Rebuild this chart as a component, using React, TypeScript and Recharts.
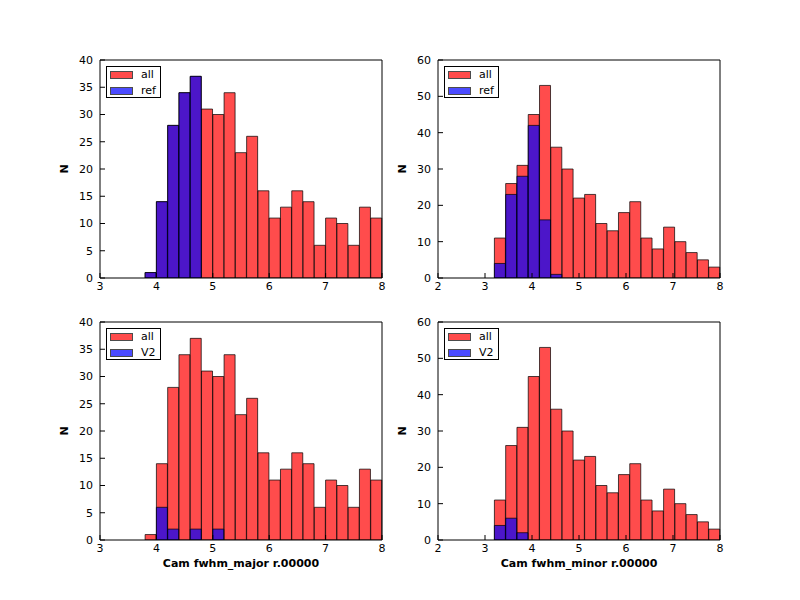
import React from 'react';
import { BarChart, Bar, XAxis, YAxis, Legend } from 'recharts';

// histogram bins (left edges) and counts
const majorBins = [3.0, 3.2, 3.4, 3.6, 3.8, 4.0, 4.2, 4.4, 4.6, 4.8, 5.0, 5.2, 5.4, 5.6, 5.8, 6.0, 6.2, 6.4, 6.6, 6.8, 7.0, 7.2, 7.4, 7.6, 7.8];
const majorAll = [0, 0, 0, 0, 1, 14, 28, 34, 37, 31, 30, 34, 23, 26, 16, 11, 13, 16, 14, 6, 11, 10, 6, 13, 11];
const majorRef = [0, 0, 0, 0, 1, 14, 28, 34, 37, 0, 0, 0, 0, 0, 0, 0, 0, 0, 0, 0, 0, 0, 0, 0, 0];
const majorV2 = [0, 0, 0, 0, 0, 6, 2, 0, 2, 0, 2, 0, 0, 0, 0, 0, 0, 0, 0, 0, 0, 0, 0, 0, 0];

const minorBins = [2.0, 2.24, 2.48, 2.72, 2.96, 3.2, 3.44, 3.68, 3.92, 4.16, 4.4, 4.64, 4.88, 5.12, 5.36, 5.6, 5.84, 6.08, 6.32, 6.56, 6.8, 7.04, 7.28, 7.52, 7.76];
const minorAll = [0, 0, 0, 0, 0, 11, 26, 31, 45, 53, 36, 30, 22, 23, 15, 13, 18, 21, 11, 8, 14, 10, 7, 5, 3];
const minorRef = [0, 0, 0, 0, 0, 4, 23, 28, 42, 16, 1, 0, 0, 0, 0, 0, 0, 0, 0, 0, 0, 0, 0, 0, 0];
const minorV2 = [0, 0, 0, 0, 0, 4, 6, 2, 0, 0, 0, 0, 0, 0, 0, 0, 0, 0, 0, 0, 0, 0, 0, 0, 0];

const majorTicks = [3, 4, 5, 6, 7, 8];
const minorTicks = [2, 3, 4, 5, 6, 7, 8];
const majorYTicks = [0, 5, 10, 15, 20, 25, 30, 35, 40];
const minorYTicks = [0, 10, 20, 30, 40, 50, 60];

const PLOT_W = 282;
const PLOT_H = 218;
const Y_AXIS_W = 72;
const TOP_M = 20;
const X_AXIS_H = 40;

const tickStyle = { fill: '#000', fontSize: 11 };
const black = { stroke: '#000' };

const LegendBox = ({ payload, order }: any) => {
  const items = [...(payload || [])].sort(
    (a: any, b: any) => order.indexOf(a.value) - order.indexOf(b.value)
  );
  return (
    <div
      style={{
        width: 55,
        height: 32,
        boxSizing: 'border-box',
        border: '1px solid #000',
        background: '#fff',
        padding: '1px 0 0 3px',
        fontSize: 11,
        color: '#000',
      }}
    >
      {items.map((p: any) => (
        <div key={p.value} style={{ display: 'flex', alignItems: 'center', height: 14, marginBottom: 2 }}>
          <span
            style={{
              display: 'inline-block',
              width: 23,
              height: 8,
              boxSizing: 'border-box',
              background: p.color,
              border: '1px solid #000',
              opacity: 0.7,
            }}
          />
          <span style={{ marginLeft: 8, lineHeight: '14px' }}>{p.value}</span>
        </div>
      ))}
    </div>
  );
};

interface PanelProps {
  left: number;
  top: number;
  bins: number[];
  all: number[];
  sub: number[];
  subName: string;
  xDomain: [number, number];
  xTicks: number[];
  yMax: number;
  yTicks: number[];
  xLabel?: string;
}

const Panel: React.FC<PanelProps> = ({ left, top, bins, all, sub, subName, xDomain, xTicks, yMax, yTicks, xLabel }) => {
  const data = bins.map((b, i) => ({ bin: b, all: all[i], sub: sub[i] }));
  return (
    <div style={{ position: 'absolute', left: left - Y_AXIS_W, top: top - TOP_M }}>
      <BarChart
        width={Y_AXIS_W + PLOT_W + 10}
        height={TOP_M + PLOT_H + X_AXIS_H + 10}
        data={data}
        margin={{ top: TOP_M - 1, right: 9, bottom: 10, left: 0 }}
        barCategoryGap={0}
        barGap={0}
      >
        {/* two band axes so that the two histograms overlap instead of sitting side by side */}
        <XAxis xAxisId="binsAll" dataKey="bin" type="category" hide height={0} />
        <XAxis xAxisId="binsSub" dataKey="bin" type="category" hide height={0} />
        <XAxis
          xAxisId="num"
          dataKey="bin"
          type="number"
          domain={xDomain}
          ticks={xTicks}
          allowDataOverflow
          interval={0}
          height={X_AXIS_H}
          tickSize={-5}
          tickMargin={9}
          tick={tickStyle}
          axisLine={black}
          tickLine={black}
          label={
            xLabel
              ? { value: xLabel, position: 'insideBottom', offset: 13, fontWeight: 'bold', fontSize: 11, fill: '#000' }
              : undefined
          }
        />
        <XAxis
          xAxisId="top"
          dataKey="bin"
          orientation="top"
          type="number"
          domain={xDomain}
          ticks={xTicks}
          allowDataOverflow
          interval={0}
          height={1}
          tickSize={-5}
          tick={false}
          axisLine={black}
          tickLine={black}
        />
        <YAxis
          yAxisId="left"
          type="number"
          domain={[0, yMax]}
          ticks={yTicks}
          allowDataOverflow
          interval={0}
          width={Y_AXIS_W}
          tickSize={-5}
          tickMargin={12}
          tick={tickStyle}
          axisLine={black}
          tickLine={black}
          label={{ value: 'N', angle: -90, position: 'center', fontWeight: 'bold', fontSize: 11, fill: '#000' }}
        />
        <YAxis
          yAxisId="right"
          orientation="right"
          type="number"
          domain={[0, yMax]}
          ticks={yTicks}
          allowDataOverflow
          interval={0}
          width={1}
          tickSize={-5}
          tick={false}
          axisLine={black}
          tickLine={black}
        />
        <Legend
          layout="vertical"
          align="center"
          verticalAlign="middle"
          wrapperStyle={{ left: Y_AXIS_W + 6, top: TOP_M + 6, width: 'auto' }}
          content={(props: any) => <LegendBox payload={props.payload} order={['all', subName]} />}
        />
        <Bar
          xAxisId="binsAll"
          yAxisId="left"
          dataKey="all"
          name="all"
          fill="#ff0000"
          fillOpacity={0.7}
          stroke="#000"
          strokeOpacity={0.7}
          isAnimationActive={false}
        />
        <Bar
          xAxisId="binsSub"
          yAxisId="left"
          dataKey="sub"
          name={subName}
          fill="#0000ff"
          fillOpacity={0.7}
          stroke="#000"
          strokeOpacity={0.7}
          isAnimationActive={false}
        />
      </BarChart>
    </div>
  );
};

export default function App() {
  return (
    <div
      style={{
        position: 'absolute',
        left: 0,
        top: 0,
        width: 800,
        height: 600,
        background: '#fff',
        fontFamily: "'DejaVu Sans', sans-serif",
      }}
    >
      <Panel left={100} top={60} bins={majorBins} all={majorAll} sub={majorRef} subName="ref"
        xDomain={[3, 8]} xTicks={majorTicks} yMax={40} yTicks={majorYTicks} />
      <Panel left={438} top={60} bins={minorBins} all={minorAll} sub={minorRef} subName="ref"
        xDomain={[2, 8]} xTicks={minorTicks} yMax={60} yTicks={minorYTicks} />
      <Panel left={100} top={322} bins={majorBins} all={majorAll} sub={majorV2} subName="V2"
        xDomain={[3, 8]} xTicks={majorTicks} yMax={40} yTicks={majorYTicks} xLabel="Cam fwhm_major r.00000" />
      <Panel left={438} top={322} bins={minorBins} all={minorAll} sub={minorV2} subName="V2"
        xDomain={[2, 8]} xTicks={minorTicks} yMax={60} yTicks={minorYTicks} xLabel="Cam fwhm_minor r.00000" />
    </div>
  );
}
